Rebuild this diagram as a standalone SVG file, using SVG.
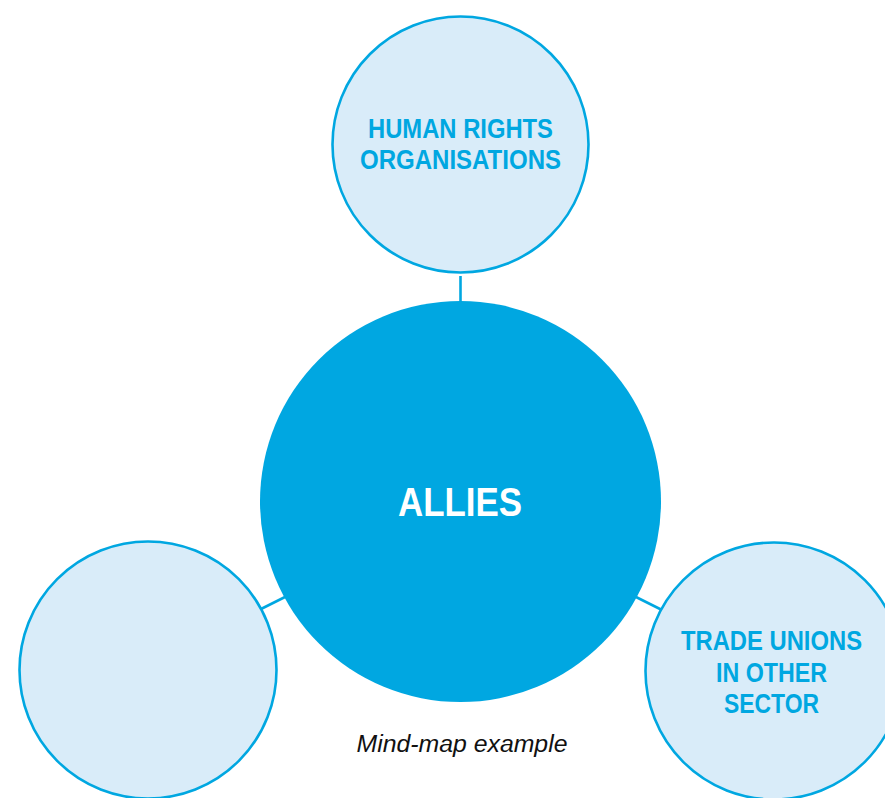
<svg xmlns="http://www.w3.org/2000/svg" width="885" height="798" viewBox="0 0 885 798">
<style>
.sat{fill:#D9ECF9;stroke:#00A7E1;stroke-width:2.6}
.hub{fill:#00A7E1}
.conn{stroke:#00A7E1;stroke-width:2.6;fill:none}
.lbl{font-family:"Liberation Sans",Arial,sans-serif;font-weight:bold;fill:#00A7E1;text-anchor:middle}
.hubt{font-family:"Liberation Sans",Arial,sans-serif;font-weight:bold;fill:#FFFFFF;text-anchor:middle}
.cap{font-family:"Liberation Sans",Arial,sans-serif;font-style:italic;fill:#111111;text-anchor:middle}
</style>
<rect width="885" height="798" fill="#FFFFFF"/>
<g id="connectors">
<line class="conn" x1="460.5" y1="276" x2="460.5" y2="302"/>
<line class="conn" x1="285" y1="597" x2="259" y2="610"/>
<line class="conn" x1="636" y1="597" x2="662" y2="610"/>
</g>
<g id="node-human-rights">
<circle class="sat" cx="460.5" cy="144.5" r="128"/>
<text class="lbl" font-size="27" x="460.5" y="138" textLength="185" lengthAdjust="spacingAndGlyphs">HUMAN RIGHTS</text>
<text class="lbl" font-size="27" x="460.5" y="169" textLength="201" lengthAdjust="spacingAndGlyphs">ORGANISATIONS</text>
</g>
<g id="node-empty">
<circle class="sat" cx="148" cy="670" r="128.5"/>
</g>
<g id="node-trade-unions">
<circle class="sat" cx="774" cy="671" r="128.5"/>
<text class="lbl" font-size="27" x="771.5" y="650" textLength="181" lengthAdjust="spacingAndGlyphs">TRADE UNIONS</text>
<text class="lbl" font-size="27" x="771.5" y="681.5" textLength="111" lengthAdjust="spacingAndGlyphs">IN OTHER</text>
<text class="lbl" font-size="27" x="771.5" y="713" textLength="95" lengthAdjust="spacingAndGlyphs">SECTOR</text>
</g>
<g id="node-allies">
<circle class="hub" cx="460.5" cy="501.5" r="200.5"/>
<text class="hubt" font-size="40" x="460" y="515.5" textLength="124" lengthAdjust="spacingAndGlyphs">ALLIES</text>
</g>
<text class="cap" font-size="23" x="462" y="751.5" textLength="211" lengthAdjust="spacingAndGlyphs">Mind-map example</text>
</svg>
